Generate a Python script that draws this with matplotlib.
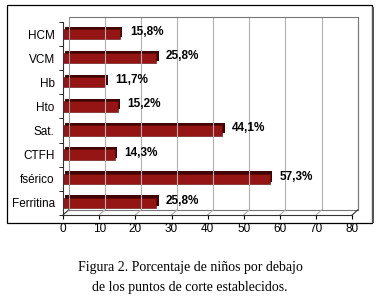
import numpy as np
import matplotlib.pyplot as plt
from matplotlib.patches import Rectangle
from matplotlib.transforms import ScaledTranslation

plt.rcParams['font.family'] = ['Liberation Sans', 'DejaVu Sans']

categorias = ['HCM', 'VCM', 'Hb', 'Hto', 'Sat.', 'CTFH', 'fsérico', 'Ferritina']
valores = [15.8, 25.8, 11.7, 15.2, 44.1, 14.3, 57.3, 25.8]
etiquetas = ['15,8%', '25,8%', '11,7%', '15,2%', '44,1%', '14,3%', '57,3%', '25,8%']
xticks = [0, 10, 20, 30, 40, 50, 60, 70, 80]

fig = plt.figure(figsize=(3.8, 3.01), dpi=100)
ax = fig.add_axes([0.166, 0.286, 0.761, 0.641])

# outer frame
fig.patches.append(Rectangle((7/380, 1-223/301), 365/380, 218/301, transform=fig.transFigure,
                             fill=False, edgecolor='black', linewidth=0.9))
fig.patches.append(Rectangle((372/380, 1-223/301), 1.5/380, 216/301, transform=fig.transFigure,
                             color='#555555', linewidth=0))

n = len(categorias)
ypos = np.arange(n)[::-1]
ax.set_xlim(0, 80)
ax.set_ylim(-0.5, n - 0.5)

# back wall (shifted right/up)
dx, dy = 0.055, 0.05
back = ax.transData + ScaledTranslation(dx, dy, fig.dpi_scale_trans)
small = ax.transData + ScaledTranslation(0.022, 0.022, fig.dpi_scale_trans)
for x in xticks[1:]:
    ax.plot([x, x], [-0.5, n - 0.5], color='#b0b0b0', lw=0.8, transform=back, clip_on=False)
ax.plot([0, 80, 80], [n - 0.5, n - 0.5, -0.5], color='#777777', lw=0.8, transform=back, clip_on=False)
ax.plot([0, 0], [-0.5, n - 0.5], color='#999999', lw=0.8, transform=back, clip_on=False)
ax.plot([0, 80], [-0.5, -0.5], color='#777777', lw=0.8, transform=back, clip_on=False)
# floor slants
for x in xticks:
    p0 = ax.transData.transform((x, -0.5))
    p1 = back.transform((x, -0.5))
    col = '#333333' if x in (0, 80) else '#b0b0b0'
    ax.plot([p0[0], p1[0]], [p0[1], p1[1]], color=col, lw=0.8, transform=None, clip_on=False)

# 3d bars: dark side then front
ax.barh(ypos, valores, height=0.43, color='#3f0404', transform=small, clip_on=False)
ax.barh(ypos, valores, height=0.43, color='#951515', edgecolor='#5a0808', linewidth=0.4)

for y, v, t in zip(ypos, valores, etiquetas):
    ax.annotate(t, (v, y), xytext=(7, 1.5), textcoords='offset points', va='center', ha='left',
                fontsize=8.5, fontweight='bold')

for s in ['top', 'right']:
    ax.spines[s].set_visible(False)
ax.spines['left'].set_color('#333333')
ax.spines['bottom'].set_color('#333333')
ax.spines['left'].set_linewidth(0.8)
ax.spines['bottom'].set_linewidth(0.8)

ax.set_yticks(ypos)
ax.set_yticklabels(categorias, fontsize=8.5)
ax.set_yticks(np.arange(-0.5, n, 1), minor=True)
ax.tick_params(axis='y', which='major', length=0, pad=6)
ax.tick_params(axis='y', which='minor', length=3)
ax.set_xticks(xticks)
ax.tick_params(axis='x', labelsize=8.5, length=3, pad=3)
ax.patch.set_alpha(0)

fig.text(0.5, 1-268/301, 'Figura 2. Porcentaje de niños por debajo', ha='center', va='center',
         family=['Liberation Serif'], fontsize=10)
fig.text(0.5, 1-287/301, 'de los puntos de corte establecidos.', ha='center', va='center',
         family=['Liberation Serif'], fontsize=10)

fig.savefig('out.png', dpi=100)
